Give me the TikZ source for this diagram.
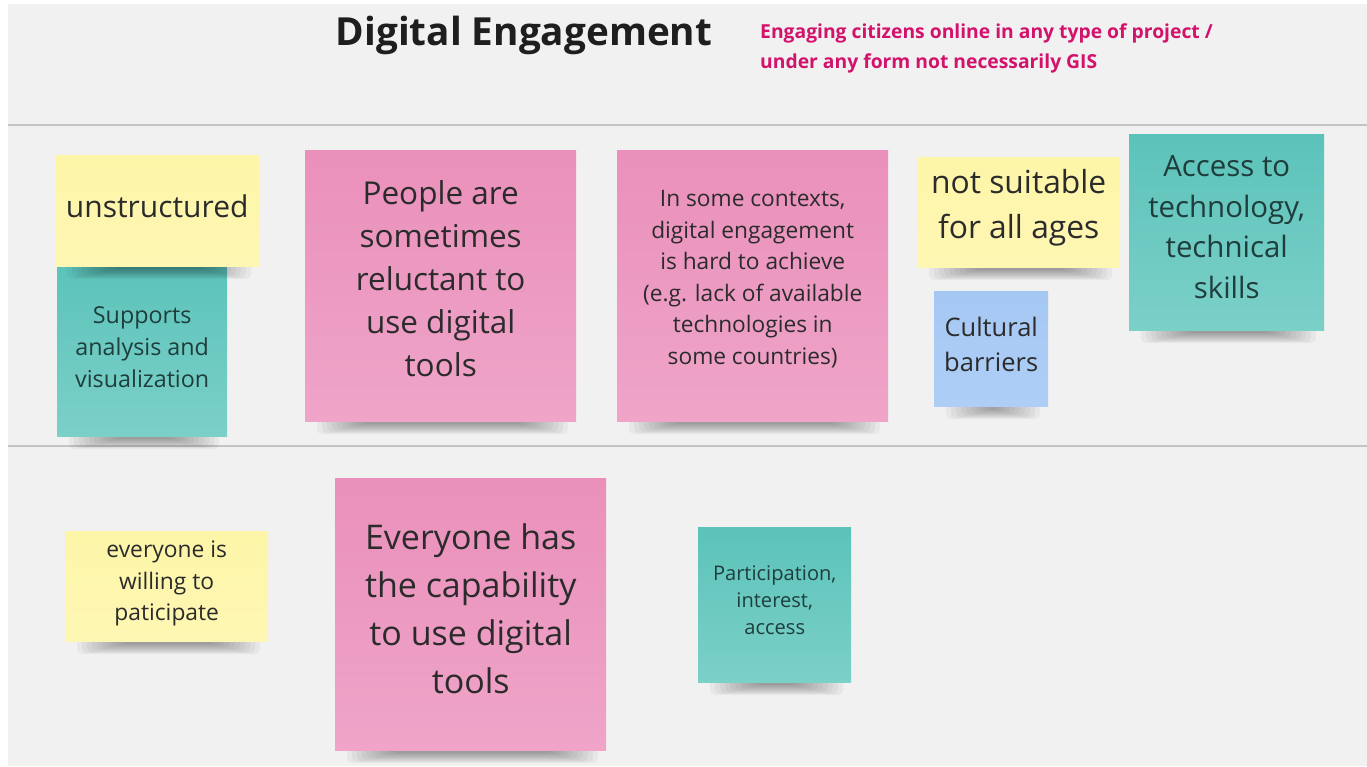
\documentclass[tikz,border=0pt]{standalone}
\usepackage{fontspec}
\setmainfont{Open Sans}
\begin{document}
\definecolor{boardbg}{HTML}{F1F1F1}
\definecolor{rule}{HTML}{C4C4C4}
\definecolor{titleink}{HTML}{1E1E1E}
\definecolor{accent}{HTML}{D3126C}
\definecolor{ylw}{HTML}{FDF5A7}
\definecolor{ylwb}{HTML}{FEF7B4}
\definecolor{tealt}{HTML}{5CC3BA}
\definecolor{tealb}{HTML}{7BD0C8}
\definecolor{pinkt}{HTML}{EA90BB}
\definecolor{pinkb}{HTML}{EFA4C8}
\definecolor{bluet}{HTML}{A5C8F3}
\definecolor{blueb}{HTML}{AECEF6}
\definecolor{ink}{HTML}{2B2B2B}
\definecolor{tealink}{HTML}{1F3D3B}
% soft shadow under the bottom edge of a note: #1 left x, #2 right x, #3 bottom y
\newcommand{\noteshadow}[3]{%
  \foreach \k in {0,...,9}{%
    \fill[black, opacity=0.04, rounded corners=5pt]
      ({#1+12+\k*5},{#3-20}) rectangle ({#2-8-\k*5},{#3+13-\k*1.1});
  }%
}
\begin{tikzpicture}[x=1pt,y=-1pt,
  note/.style={rectangle, anchor=north west, inner sep=0pt},
  yellownote/.style={note, top color=ylw, bottom color=ylwb},
  tealnote/.style={note, top color=tealt, bottom color=tealb},
  pinknote/.style={note, top color=pinkt, bottom color=pinkb},
  bluenote/.style={note, top color=bluet, bottom color=blueb},
  notetext/.style={inner sep=0pt, align=center, text=ink},
  tealtext/.style={notetext, text=tealink},
  sz/.style 2 args={font=\fontsize{#1}{#2}\selectfont}]
\useasboundingbox (0,0) rectangle (1367,766);
% board
\fill[white] (0,0) rectangle (1367,766);
\fill[boardbg] (8,4) rectangle (1367,766);
\draw[rule, line width=1.2pt] (8,125) -- (1367,125);
\draw[rule, line width=1.2pt] (8,446) -- (1367,446);
% heading
\node[anchor=base, inner sep=0pt, text=titleink, font=\fontsize{38.7}{44}\selectfont\bfseries] (title) at (524,45) {Digital Engagement};
\node[anchor=north west, inner sep=0pt, align=left, text=accent, font=\fontsize{19.3}{30}\selectfont\bfseries] (subtitle) at (760,24) {Engaging citizens online in any type of project /\\under any form not necessarily GIS};
% first row
\noteshadow{57}{227}{436}
\node[tealnote, minimum width=170pt, minimum height=171pt] (support) at (57,265) {};
\node[tealtext, sz={23.3}{32}, yshift=4pt] (support-t) at (support.center) {Supports\\analysis and\\visualization};
\noteshadow{55}{259}{266}
\node[yellownote, minimum width=204pt, minimum height=111pt] (unstruct) at (55,155) {};
\node[notetext, sz={30}{43}, yshift=4pt] (unstruct-t) at (unstruct.center) {unstructured};
\noteshadow{305}{576}{421}
\node[pinknote, minimum width=271pt, minimum height=271pt] (reluct) at (305,150) {};
\node[notetext, sz={31.5}{43}, yshift=7.5pt] (reluct-t) at (reluct.center) {People are\\sometimes\\reluctant to\\use digital\\tools};
\noteshadow{617}{888}{421}
\node[pinknote, minimum width=271pt, minimum height=271pt] (context) at (617,150) {};
\node[notetext, sz={22.7}{31.6}, yshift=6.5pt] (context-t) at (context.center) {In some contexts,\\digital engagement\\is hard to achieve\\(e.g. lack of available\\technologies in\\some countries)};
\noteshadow{917}{1120}{267}
\node[yellownote, minimum width=203pt, minimum height=110pt] (ages) at (917,157) {};
\node[notetext, sz={31.8}{45}, yshift=4.5pt] (ages-t) at (ages.center) {not suitable\\for all ages};
\noteshadow{934}{1048}{406}
\node[bluenote, minimum width=114pt, minimum height=115pt] (culture) at (934,291) {};
\node[notetext, sz={25.5}{35}, yshift=4pt] (culture-t) at (culture.center) {Cultural\\barriers};
\noteshadow{1129}{1324}{330}
\node[tealnote, minimum width=195pt, minimum height=196pt] (access) at (1129,134) {};
\node[tealtext, sz={29.4}{40.5}, yshift=5pt] (access-t) at (access.center) {Access to\\technology,\\technical\\skills};
% second row
\noteshadow{65}{268}{641}
\node[yellownote, minimum width=203pt, minimum height=110pt] (willing) at (65,531) {};
\node[notetext, sz={22.8}{31.5}, yshift=2.5pt] (willing-t) at (willing.center) {everyone is\\willing to\\paticipate};
\noteshadow{335}{606}{750}
\node[pinknote, minimum width=271pt, minimum height=272pt] (capable) at (335,478) {};
\node[notetext, sz={34}{47.7}, yshift=5.5pt] (capable-t) at (capable.center) {Everyone has\\the capability\\to use digital\\tools};
\noteshadow{698}{851}{682}
\node[tealnote, minimum width=153pt, minimum height=155pt] (particip) at (698,527) {};
\node[tealtext, sz={20.1}{27}, yshift=4.5pt] (particip-t) at (particip.center) {Participation,\\interest,\\access};
\end{tikzpicture}
\end{document}
